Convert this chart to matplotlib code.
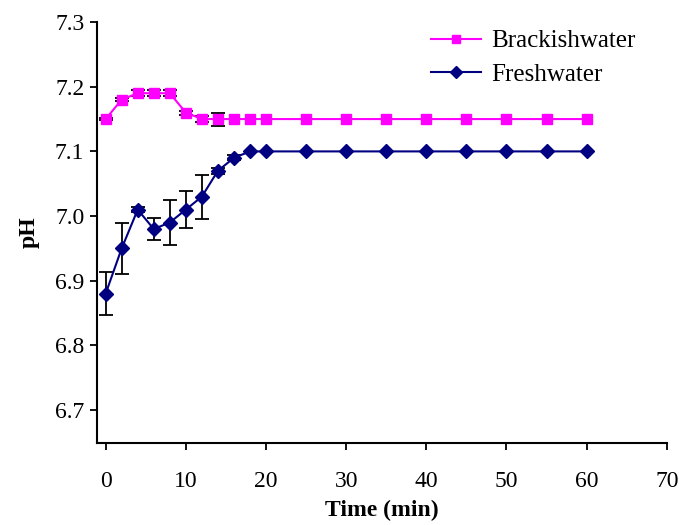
import matplotlib
matplotlib.use('Agg')
import matplotlib.pyplot as plt
from matplotlib.lines import Line2D

plt.rcParams['font.family'] = ['Liberation Serif', 'DejaVu Serif']

time = [0, 2, 4, 6, 8, 10, 12, 14, 16, 18, 20, 25, 30, 35, 40, 45, 50, 55, 60]

brackish = [7.15, 7.18, 7.19, 7.19, 7.19, 7.16, 7.15, 7.15, 7.15, 7.15, 7.15,
            7.15, 7.15, 7.15, 7.15, 7.15, 7.15, 7.15, 7.15]
brackish_err = [0.001, 0.002, 0.005, 0.005, 0.005, 0.003, 0.004, 0.010, 0, 0, 0,
                0, 0, 0, 0, 0, 0, 0, 0]

fresh = [6.88, 6.95, 7.01, 6.98, 6.99, 7.01, 7.03, 7.07, 7.09, 7.10, 7.10,
         7.10, 7.10, 7.10, 7.10, 7.10, 7.10, 7.10, 7.10]
fresh_err = [0.033, 0.040, 0.004, 0.017, 0.035, 0.029, 0.034, 0.005, 0.004, 0, 0,
             0, 0, 0, 0, 0, 0, 0, 0]

fig = plt.figure(figsize=(6.79, 5.25), dpi=100)
ax = fig.add_axes([0.1426, 0.156, 0.8394, 0.802])


def draw(vals, errs, color, marker, ms):
    ax.plot(time, vals, color=color, marker=marker, markersize=ms,
            linewidth=1.5, zorder=3)
    # only points that actually have an error get a bar
    xs = [t for t, e in zip(time, errs) if e > 0]
    ys = [v for v, e in zip(vals, errs) if e > 0]
    es = [e for e in errs if e > 0]
    ax.errorbar(xs, ys, yerr=es, fmt='none', ecolor='black', elinewidth=1.3,
                capsize=5, capthick=1.3, zorder=2)


draw(brackish, brackish_err, '#FF00FF', 's', 6.5)
draw(fresh, fresh_err, '#000080', 'D', 7.5)

ax.set_xlim(-1.1, 70)
ax.set_ylim(6.649, 7.3)
ax.set_xticks(range(0, 71, 10))
ax.set_yticks([6.7, 6.8, 6.9, 7.0, 7.1, 7.2, 7.3])
ax.set_yticklabels(['6.7', '6.8', '6.9', '7.0', '7.1', '7.2', '7.3'])

for s in ['top', 'right']:
    ax.spines[s].set_visible(False)
for s in ['left', 'bottom']:
    ax.spines[s].set_linewidth(1.5)
ax.tick_params(axis='both', direction='out', length=5, width=1.3, labelsize=17)
ax.tick_params(axis='x', pad=15)
ax.tick_params(axis='y', pad=4)

ax.set_xlabel('Time (min)', fontsize=17, fontweight='bold', labelpad=6)
ax.set_ylabel('pH', fontsize=17, fontweight='bold', labelpad=11)

handles = [Line2D([], [], color='#FF00FF', marker='s', markersize=5.5, linewidth=1.5),
           Line2D([], [], color='#000080', marker='D', markersize=6.5, linewidth=1.5)]
ax.legend(handles, ['Brackishwater', 'Freshwater'], loc='upper right',
          bbox_to_anchor=(0.985, 1.035), frameon=False, fontsize=18,
          handlelength=2.0, handletextpad=0.4, labelspacing=0.45)

fig.savefig('out.png', dpi=100)
